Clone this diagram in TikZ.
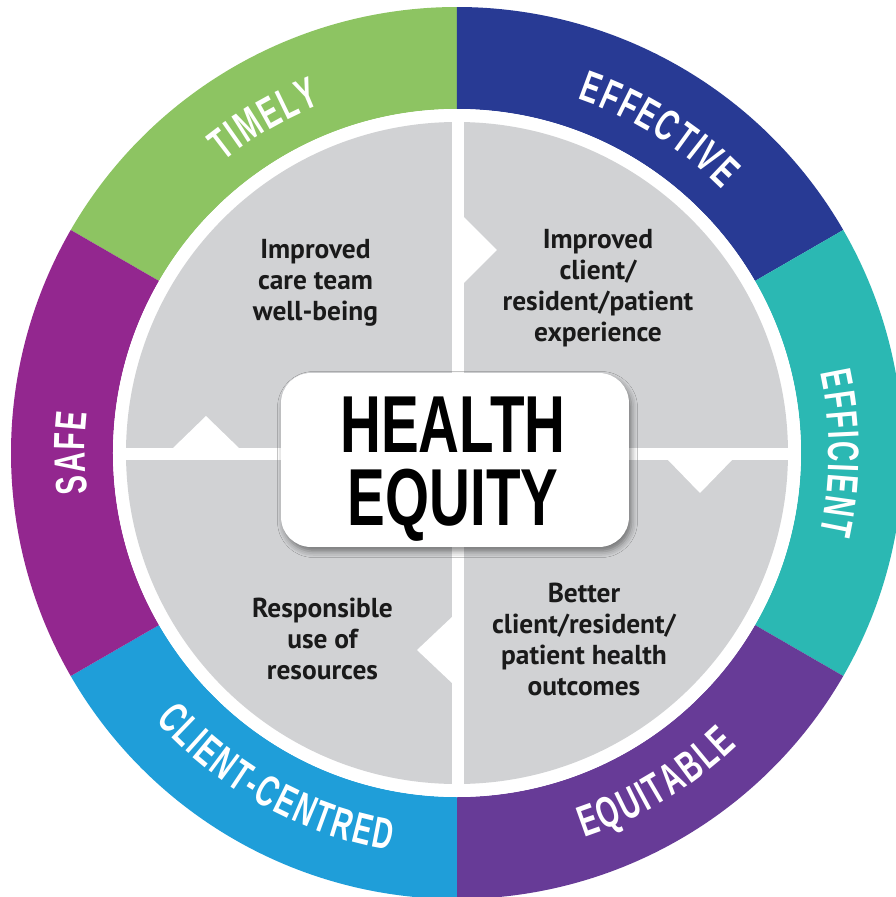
\documentclass[tikz,border=0pt]{standalone}
\usepackage{fontspec}
\usetikzlibrary{decorations.text,shadows.blur}
\setmainfont{PT Sans}
\newfontfamily\ringfont[FakeStretch=0.64]{Liberation Sans}
\newfontfamily\corefont[FakeStretch=0.70]{Liberation Sans}
\newcommand\ringfmt{\ringfont\bfseries\fontsize{25}{25}\selectfont}

\definecolor{cTimely}{HTML}{8DC462}
\definecolor{cEffective}{HTML}{283A94}
\definecolor{cEfficient}{HTML}{2BB8B3}
\definecolor{cEquitable}{HTML}{673B97}
\definecolor{cClient}{HTML}{1F9ED9}
\definecolor{cSafe}{HTML}{93278F}
\definecolor{quadgray}{HTML}{D1D2D4}
\definecolor{inktext}{HTML}{1A1A1A}

\begin{document}
\begin{tikzpicture}[x=0.02cm,y=0.02cm,
  ringlabel/.style={decorate, decoration={text along path, text align=center,
      text color=white, text={|\ringfmt|#1}}},
  quadtext/.style={align=center, inner sep=0pt, text=inktext,
      font=\bfseries\fontsize{15.6}{17.6}\selectfont},
  corebox/.style={fill=white, rounded corners=0.6cm, minimum width=6.96cm,
      minimum height=3.48cm, inner sep=0pt,
      blur shadow={shadow xshift=0.05cm, shadow yshift=-0.09cm,
        shadow opacity=45, shadow blur radius=0.12cm}},
  coretext/.style={align=center, inner sep=0pt, text=black,
      font=\corefont\bfseries\fontsize{46}{41.4}\selectfont},
  notch/.style={fill=white}]

% page frame
\fill[white] (-457,-444) rectangle (439,453);
\clip (-457,-444) rectangle (439,453);

% outer ring of six quality dimensions
\foreach \a/\c in {90/cTimely, 30/cEffective, -30/cEfficient,
                   -90/cEquitable, 210/cClient, 150/cSafe}
  \fill[\c] (\a:344) arc[start angle=\a, end angle={\a+60}, radius=344]
     -- ({\a+60}:446) arc[start angle={\a+60}, end angle=\a, radius=446] -- cycle;

% ring labels (letters spaced out with small kerns)
\path[ringlabel={T{\kern1.2pt}I{\kern1.2pt}M{\kern1.2pt}E{\kern1.2pt}L{\kern1.2pt}Y}]
  (150:374) arc[start angle=150, end angle=90, radius=374];
\path[ringlabel={E{\kern1.2pt}F{\kern1.2pt}F{\kern1.2pt}E{\kern1.2pt}C{\kern1.2pt}T{\kern1.2pt}I{\kern1.2pt}V{\kern1.2pt}E}]
  (88:374) arc[start angle=88, end angle=28, radius=374];
\path[ringlabel={E{\kern1.2pt}F{\kern1.2pt}F{\kern1.2pt}I{\kern1.2pt}C{\kern1.2pt}I{\kern1.2pt}E{\kern1.2pt}N{\kern1.2pt}T}]
  (30:372) arc[start angle=30, end angle=-30, radius=372];
\path[ringlabel={S{\kern1.2pt}A{\kern1.2pt}F{\kern1.2pt}E}]
  (210:372) arc[start angle=210, end angle=150, radius=372];
\path[ringlabel={C{\kern1.2pt}L{\kern1.2pt}I{\kern1.2pt}E{\kern1.2pt}N{\kern1.2pt}T{\kern1.2pt}-{\kern1.2pt}C{\kern1.2pt}E{\kern1.2pt}N{\kern1.2pt}T{\kern1.2pt}R{\kern1.2pt}E{\kern1.2pt}D}]
  (203:403) arc[start angle=203, end angle=279, radius=403];
\path[ringlabel={E{\kern1.2pt}Q{\kern1.2pt}U{\kern1.2pt}I{\kern1.2pt}T{\kern1.2pt}A{\kern1.2pt}B{\kern1.2pt}L{\kern1.2pt}E}]
  (266:405) arc[start angle=266, end angle=336, radius=405];

% inner disc split into four quadrants
\fill[white] (0,0) circle[radius=344];
\fill[quadgray] (0,0) circle[radius=331];
\fill[white] (-5,-340) rectangle (7,340);
\fill[white] (-340,-7) rectangle (340,5);

% interlocking notches
\fill[notch] (-285,4) -- (-251,37) -- (-217,4) -- cycle;
\fill[notch] (6,237) -- (40,203) -- (6,169) -- cycle;
\fill[notch] (210,-6) -- (243,-40) -- (276,-6) -- cycle;
\fill[notch] (-4,-163) -- (-40,-197) -- (-4,-231) -- cycle;

% quadrant statements
\node[quadtext] (wellbeing) at (-141.5,170) {Improved\\care team\\well-being};
\node[quadtext] (experience) at (141,164.5) {Improved\\client/\\resident/patient\\experience};
\node[quadtext] (resources) at (-134.5,-186) {Responsible\\use of\\resources};
\node[quadtext] (outcomes) at (127,-186.5) {Better\\client/resident/\\patient health\\outcomes};

% centre panel
\node[corebox] (core) at (-2,-7) {};
\node[coretext] (coretitle) at (-4,-16.5) {HEALTH\\EQUITY};
\end{tikzpicture}
\end{document}
